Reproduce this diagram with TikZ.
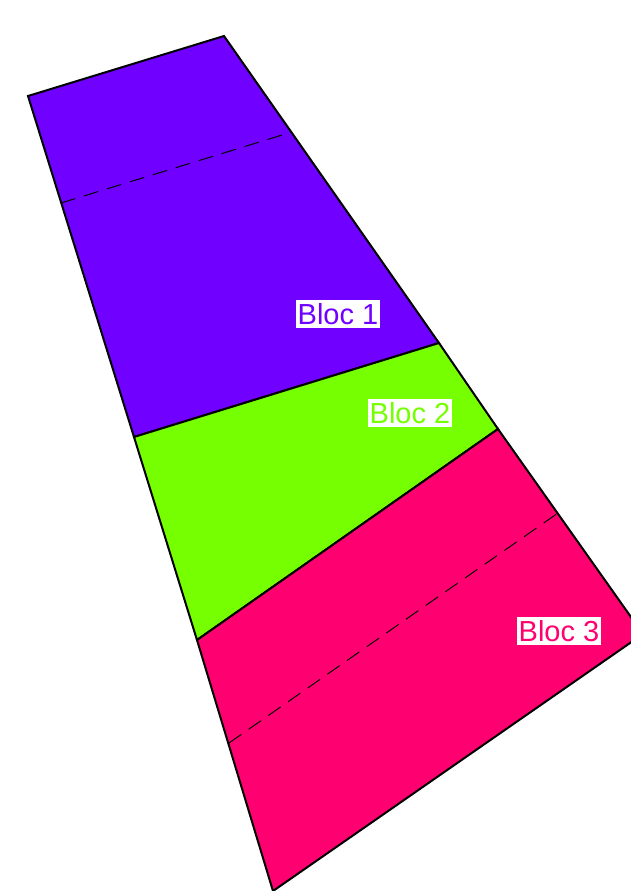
\documentclass[tikz,border=0pt]{standalone}
\usepackage{fontspec}
\setmainfont{Liberation Sans}
\usepackage{tikz}
\definecolor{blocviolet}{RGB}{112,0,255}
\definecolor{blocvert}{RGB}{117,255,0}
\definecolor{blocrose}{RGB}{255,0,112}
\tikzset{
  bloc/.style={fill=#1,draw=black,line width=2pt,line join=miter},
  etiquette/.style={fill=white,text=#1,inner xsep=2pt,inner ysep=3pt,font=\fontsize{29}{32}\selectfont},
  separation/.style={draw=black,line width=1pt,dash pattern=on 15pt off 9pt}
}
\begin{document}
\begin{tikzpicture}[x=1pt,y=-1pt]
    \useasboundingbox (0,0) rectangle (631,891);
    \clip (0,0) rectangle (631,891);
    % sommets du trapeze
    \coordinate (a) at (28,96);
    \coordinate (b) at (224,36);
    \coordinate (c) at (439,343);
    \coordinate (d) at (498,429);
    \coordinate (e) at (643,634);
    \coordinate (f) at (273,891);
    \coordinate (g) at (197,640);
    \coordinate (h) at (134,437);
    % blocs
    \draw[bloc=blocviolet] (a) -- (b) -- (c) -- (h) -- cycle;
    \draw[bloc=blocvert] (h) -- (c) -- (d) -- (g) -- cycle;
    \draw[bloc=blocrose] (g) -- (d) -- (e) -- (f) -- cycle;
    % lignes pointillees
    \coordinate (p1) at (61,203);
    \coordinate (q1) at (292,132);
    \coordinate (p3) at (229,743);
    \coordinate (q3) at (558,513);
    \draw[separation] (p1) -- (q1);
    \draw[separation] (p3) -- (q3);
    % etiquettes
    \node[etiquette=blocviolet] (bloc1) at (338,314) {Bloc 1};
    \node[etiquette=blocvert] (bloc2) at (410,413) {Bloc 2};
    \node[etiquette=blocrose] (bloc3) at (559,631) {Bloc 3};
\end{tikzpicture}
\end{document}
